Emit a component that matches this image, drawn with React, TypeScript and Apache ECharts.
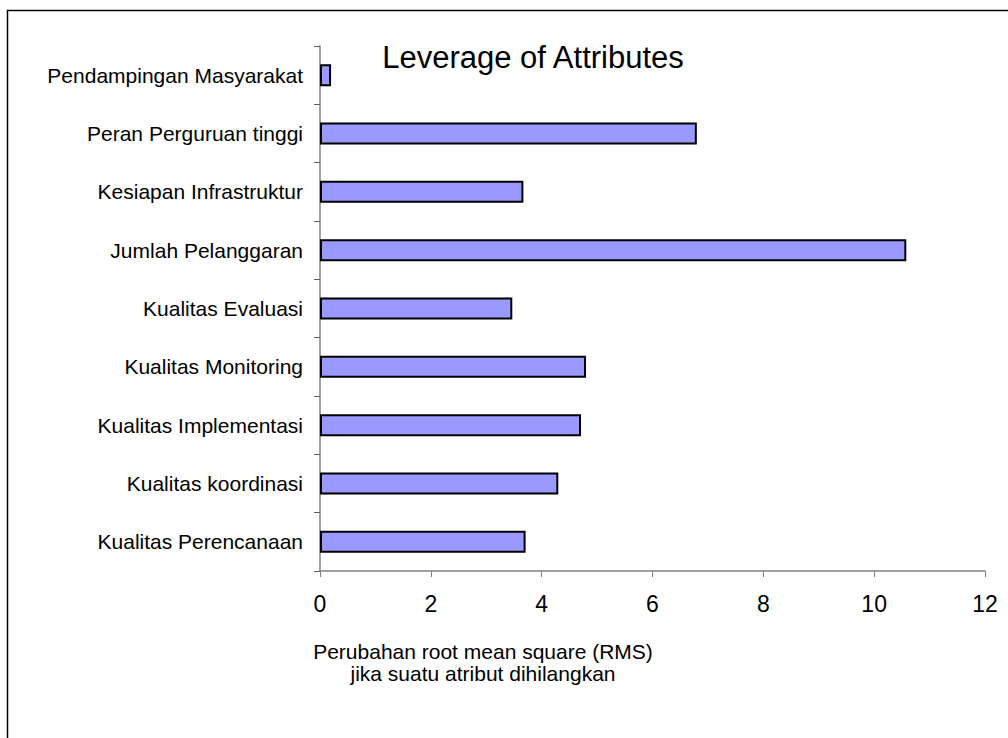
import React, { useEffect, useRef } from "react";
import * as echarts from "echarts";

const categories = [
  "Pendampingan Masyarakat",
  "Peran Perguruan tinggi",
  "Kesiapan Infrastruktur",
  "Jumlah Pelanggaran",
  "Kualitas Evaluasi",
  "Kualitas Monitoring",
  "Kualitas Implementasi",
  "Kualitas koordinasi",
  "Kualitas Perencanaan",
];
const values = [0.2, 6.8, 3.67, 10.58, 3.47, 4.8, 4.71, 4.3, 3.71];
const titleText = "Leverage of Attributes";
const axisNameLines = ["Perubahan root mean square (RMS)", "jika suatu atribut dihilangkan"];
const xMin = 0;
const xMax = 12;
const xInterval = 2;

const FONT = "'Liberation Sans', Arial, sans-serif";

export default function App() {
  const ref = useRef<HTMLDivElement>(null);
  useEffect(() => {
    if (!ref.current) return;
    const chart = echarts.init(ref.current, null, { renderer: "svg" });
    chart.setOption({
      animation: false,
      backgroundColor: "#ffffff",
      textStyle: { fontFamily: FONT },
      title: {
        text: titleText,
        left: 528,
        top: 37,
        textAlign: "center",
        textStyle: { fontFamily: FONT, fontSize: 31, fontWeight: "normal", color: "#000" },
      },
      grid: { left: 320, right: 23, top: 46, bottom: 167, containLabel: false },
      xAxis: {
        type: "value",
        min: xMin,
        max: xMax,
        interval: xInterval,
        splitLine: { show: false },
        axisLine: { show: true, lineStyle: { color: "#808080", width: 1.5 } },
        axisTick: { show: true, inside: false, length: 6, lineStyle: { color: "#808080" } },
        axisLabel: { fontFamily: FONT, fontSize: 23, color: "#000", margin: 21 },
      },
      yAxis: {
        type: "category",
        data: categories,
        inverse: true,
        axisLine: { show: true, lineStyle: { color: "#808080", width: 1.5 } },
        axisTick: { show: true, inside: false, length: 6, lineStyle: { color: "#606060" } },
        axisLabel: { fontFamily: FONT, fontSize: 21, color: "#000", margin: 17 },
      },
      series: [
        {
          type: "bar",
          data: values,
          barWidth: 22,
          itemStyle: { color: "#9999ff", borderColor: "#000", borderWidth: 2 },
        },
      ],
      graphic: [
        {
          type: "rect",
          shape: { x: 7.5, y: 10.5, width: 1010, height: 740 },
          style: { fill: "none", stroke: "#000", lineWidth: 1.5 },
          silent: true,
        },
        {
          type: "text",
          x: 483,
          y: 662,
          style: {
            text: axisNameLines.join("\n"),
            fontFamily: FONT,
            fontSize: 21,
            lineHeight: 22,
            fill: "#000",
            textAlign: "center",
            textVerticalAlign: "middle",
          },
        },
      ],
    });
    return () => chart.dispose();
  }, []);
  return <div ref={ref} style={{ width: 1008, height: 738, position: "absolute", left: 0, top: 0 }} />;
}
